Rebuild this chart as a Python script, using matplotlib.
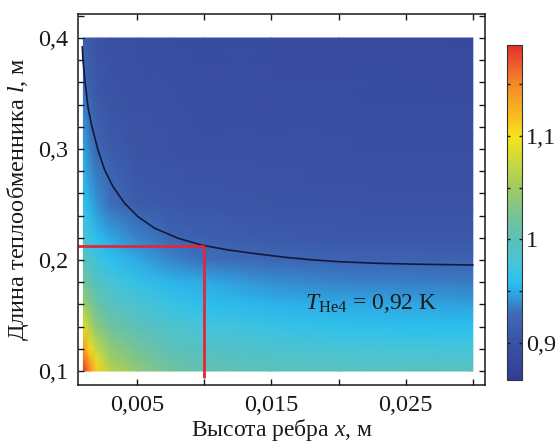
import numpy as np
import matplotlib
matplotlib.use("Agg")
import matplotlib.pyplot as plt
from matplotlib.colors import LinearSegmentedColormap

plt.rcParams['font.family'] = ['Liberation Serif', 'DejaVu Serif']
plt.rcParams['mathtext.fontset'] = 'custom'
plt.rcParams['mathtext.rm'] = 'Liberation Serif'
plt.rcParams['mathtext.it'] = 'Liberation Serif:italic'

# ---- data ----
x_grid = [0.001, 0.0015, 0.002, 0.003, 0.005, 0.0075, 0.01, 0.015, 0.02, 0.03]
l_grid = [0.10, 0.11, 0.12, 0.14, 0.16, 0.18, 0.20, 0.22, 0.25, 0.30, 0.35, 0.40]
T_row_010 = [1.185, 1.150, 1.110, 1.065, 1.040, 1.015, 1.005, 1.000, 0.997, 0.995]
T_row_011 = [1.165, 1.130, 1.090, 1.050, 1.030, 1.008, 0.999, 0.991, 0.988, 0.985]
T_row_012 = [1.140, 1.105, 1.070, 1.040, 1.020, 1.000, 0.992, 0.983, 0.979, 0.976]
T_row_014 = [1.090, 1.060, 1.035, 1.015, 1.000, 0.985, 0.976, 0.967, 0.962, 0.958]
T_row_016 = [1.050, 1.030, 1.012, 0.996, 0.982, 0.968, 0.960, 0.953, 0.949, 0.946]
T_row_018 = [1.020, 1.005, 0.992, 0.978, 0.965, 0.955, 0.949, 0.941, 0.937, 0.934]
T_row_020 = [0.998, 0.984, 0.972, 0.961, 0.950, 0.938, 0.930, 0.924, 0.920, 0.918]
T_row_022 = [0.985, 0.968, 0.958, 0.948, 0.937, 0.922, 0.916, 0.910, 0.908, 0.907]
T_row_025 = [0.965, 0.952, 0.942, 0.930, 0.912, 0.908, 0.905, 0.902, 0.901, 0.900]
T_row_030 = [0.948, 0.935, 0.923, 0.910, 0.903, 0.900, 0.898, 0.897, 0.896, 0.895]
T_row_035 = [0.932, 0.916, 0.908, 0.903, 0.898, 0.896, 0.894, 0.893, 0.892, 0.891]
T_row_040 = [0.912, 0.908, 0.904, 0.898, 0.895, 0.893, 0.891, 0.890, 0.889, 0.888]
T_rows = [T_row_010, T_row_011, T_row_012, T_row_014, T_row_016, T_row_018,
          T_row_020, T_row_022, T_row_025, T_row_030, T_row_035, T_row_040]

contour_x = [0.00092, 0.00097, 0.00114, 0.00134, 0.00164, 0.00209, 0.00259,
             0.00321, 0.00408, 0.00507, 0.00632, 0.00806, 0.00979, 0.01179,
             0.01403, 0.0160, 0.0180, 0.0200, 0.0230, 0.0260, 0.0300]
contour_l = [0.392, 0.380, 0.359, 0.338, 0.320, 0.299, 0.281,
             0.266, 0.251, 0.239, 0.2286, 0.2196, 0.2135, 0.2090,
             0.2054, 0.2025, 0.2002, 0.1985, 0.1970, 0.1962, 0.1955]

point_x = 0.01
point_l = 0.213

xticks = [0.005, 0.010, 0.015, 0.020, 0.025, 0.030]
xticklabels = ['0,005', '', '0,015', '', '0,025', '']
yticks = [0.10, 0.12, 0.14, 0.16, 0.18, 0.20, 0.22, 0.24, 0.26, 0.28, 0.30,
          0.32, 0.34, 0.36, 0.38, 0.40, 0.42]
yticklabels = ['0,1', '', '', '', '', '0,2', '', '', '', '', '0,3',
               '', '', '', '', '0,4', '']
cbar_ticks = [0.90, 0.95, 1.00, 1.05, 1.10, 1.15]
cbar_ticklabels = ['0,9', '', '1', '', '1,1', '']

T_min, T_max = 0.864, 1.188

# ---- colormap ----
cmap_vals = [0.864, 0.900, 0.929, 0.948, 0.958, 0.977, 1.000, 1.026, 1.050,
             1.074, 1.100, 1.122, 1.152, 1.188]
cmap_cols = ['#323d96', '#3b52a4', '#3e6cb8', '#2ea8e4', '#2ac0f0', '#48c4d8',
             '#5cc0b8', '#7cc490', '#a0cc60', '#c8d840', '#f4e41c', '#f8b820',
             '#f4882a', '#e4302a']
cmap = LinearSegmentedColormap.from_list(
    'he', list(zip([(v - T_min) / (T_max - T_min) for v in cmap_vals], cmap_cols)))

fig = plt.figure(figsize=(5.58, 4.45), dpi=100)
ax = fig.add_axes([0.1398, 0.1348, 0.7292, 0.8337])

X, L = np.meshgrid(np.array(x_grid), np.array(l_grid))
T = np.array(T_rows)
mesh = ax.pcolormesh(X, L, T, cmap=cmap, vmin=T_min, vmax=T_max,
                     shading='gouraud', rasterized=True)

ax.plot(contour_x, contour_l, color='#14183c', lw=1.2)

ax.plot([0.0006, point_x], [point_l, point_l], color='#e3263a', lw=2.0,
        clip_on=False, solid_capstyle='butt')
ax.plot([point_x, point_x], [point_l, 0.094], color='#e3263a', lw=2.0,
        solid_capstyle='butt')

ax.text(0.0224, 0.161, r'$T_{\mathrm{He4}}$ = 0,92 K', fontsize=17,
        ha='center', va='center', color='#1a1a1a')

ax.set_xlim(0.0006, 0.0309)
ax.set_ylim(0.0874, 0.4216)
ax.set_xticks(xticks)
ax.set_xticklabels(xticklabels)
ax.set_yticks(yticks)
ax.set_yticklabels(yticklabels)
ax.tick_params(direction='in', length=4, width=1, top=True, right=True,
               labelsize=17.5, pad=7, colors='#1a1a1a')
for s in ax.spines.values():
    s.set_linewidth(1.1)
    s.set_color('#1a1a1a')

ax.set_xlabel(r'Высота ребра $x$, м', fontsize=17, labelpad=1, color='#1a1a1a')
ax.set_ylabel(r'Длина теплообменника $l$, м', fontsize=17.5, labelpad=5, color='#1a1a1a')

cax = fig.add_axes([0.9086, 0.146, 0.0269, 0.753])
cb = fig.colorbar(mesh, cax=cax)
cb.set_ticks(cbar_ticks)
cb.set_ticklabels(cbar_ticklabels)
cax.tick_params(direction='in', length=2.5, width=1, left=True, right=True,
                labelsize=17.5, pad=3, colors='#1a1a1a')
cb.outline.set_linewidth(0.8)
cb.outline.set_edgecolor('#333333')

fig.savefig('out.png', dpi=100)
